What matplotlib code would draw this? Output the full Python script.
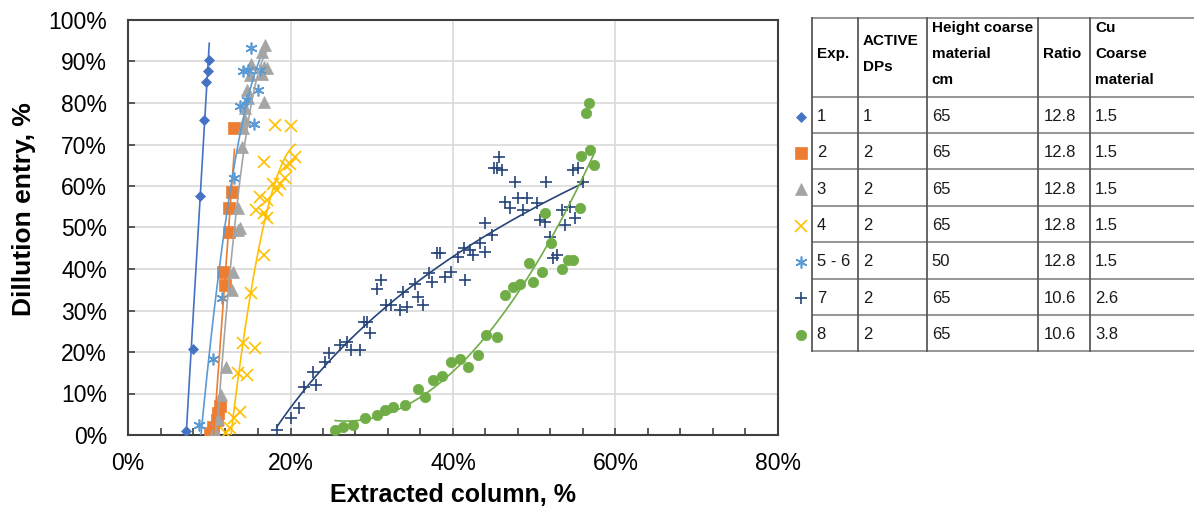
import numpy as np
import matplotlib
matplotlib.use("Agg")
import matplotlib.pyplot as plt
from matplotlib.ticker import MultipleLocator, FuncFormatter

plt.rcParams['font.family'] = ['Liberation Sans', 'DejaVu Sans']

# ---- data (x = extracted column %, y = dilution entry %) ----
exp1_x = [7.1, 8.0, 8.8, 9.4, 9.6, 9.8, 10.0]
exp1_y = [1.0, 20.7, 57.7, 75.9, 85.0, 87.7, 90.4]

exp2_x = [10.1, 10.5, 10.9, 11.1, 11.3, 11.7, 11.9, 12.4, 12.4, 12.8, 13.1]
exp2_y = [0.5, 2.0, 3.6, 5.3, 7.0, 39.3, 36.1, 48.9, 54.7, 58.6, 74.0]

exp3_x = [10.5, 10.7, 11.1, 11.5, 12.1, 12.8, 12.9, 13.6, 13.8, 13.5, 14.0, 14.2,
          14.4, 14.4, 14.6, 14.8, 16.7, 15.0, 16.5, 15.2, 16.7, 17.1, 16.5, 16.9]
exp3_y = [0.3, 0.8, 3.8, 9.6, 16.3, 34.9, 39.3, 49.4, 49.8, 54.6, 69.3, 73.9,
          75.9, 78.7, 83.1, 81.1, 80.2, 86.7, 87.1, 89.5, 88.7, 88.4, 92.4, 94.0]

exp4_x = [12.1, 12.6, 13.0, 13.8, 13.6, 14.6, 14.2, 15.6, 15.2, 16.7, 15.8, 16.7,
          17.1, 16.2, 17.1, 17.9, 18.7, 19.5, 16.7, 20.6, 19.9, 18.1, 20.1, 18.4, 19.3]
exp4_y = [0.4, 1.6, 4.0, 5.6, 14.9, 14.5, 22.1, 20.9, 34.1, 43.4, 54.2, 53.4,
          52.2, 57.4, 56.6, 60.6, 60.6, 64.7, 65.7, 67.1, 65.2, 74.7, 74.5, 59.0, 62.0]

exp56_x = [8.7, 10.4, 11.6, 13.0, 13.8, 14.6, 15.5, 16.0, 14.1, 14.8, 16.2, 15.2]
exp56_y = [2.4, 18.3, 33.1, 61.9, 79.3, 80.7, 74.9, 83.1, 87.8, 88.0, 88.0, 93.2]

exp7_x = [18.3, 20.1, 21.0, 21.6, 23.2, 22.8, 24.2, 24.7, 26.1, 26.9, 27.5, 28.6,
          29.0, 29.4, 29.8, 30.6, 31.2, 31.8, 32.4, 33.5, 34.3, 33.9, 35.3, 35.7,
          36.3, 37.0, 37.4, 38.0, 38.4, 39.0, 39.8, 40.6, 41.5, 41.3, 42.1, 42.5,
          43.3, 43.9, 43.9, 44.8, 45.0, 45.4, 46.0, 45.7, 46.4, 47.0, 47.6, 48.0,
          48.6, 49.1, 50.3, 50.7, 51.3, 51.5, 51.9, 52.3, 52.8, 53.4, 53.8, 54.4,
          55.0, 54.8, 55.4, 56.0]
exp7_y = [1.2, 4.0, 6.4, 11.6, 12.0, 15.3, 17.7, 19.7, 21.7, 22.5, 20.5, 20.5,
          27.3, 27.3, 24.5, 35.3, 37.3, 31.3, 31.3, 30.1, 30.9, 34.5, 36.5, 33.3,
          31.3, 39.0, 36.9, 43.8, 43.8, 38.1, 39.3, 43.0, 37.3, 45.0, 44.6, 43.4,
          46.2, 44.2, 51.0, 48.2, 64.3, 64.3, 63.9, 67.1, 56.2, 54.6, 61.0, 57.0,
          54.2, 57.0, 55.8, 51.8, 51.4, 61.0, 47.8, 42.6, 43.4, 54.2, 50.6, 55.0,
          52.2, 63.9, 64.3, 61.0]

exp8_x = [25.5, 26.5, 27.7, 29.2, 30.6, 31.6, 32.6, 34.1, 35.7, 36.6, 37.6, 38.6,
          39.8, 40.9, 41.9, 43.1, 44.1, 45.4, 46.4, 47.4, 48.2, 49.3, 49.9, 50.9,
          51.3, 52.1, 53.4, 54.2, 54.8, 55.6, 55.8, 56.9, 57.3, 56.7, 56.4]
exp8_y = [1.2, 2.0, 2.4, 4.2, 4.8, 6.0, 6.8, 7.2, 11.0, 9.2, 13.3, 14.1,
          17.7, 18.2, 16.5, 19.3, 24.1, 23.5, 33.7, 35.7, 36.5, 41.4, 36.9, 39.3,
          53.4, 46.3, 39.9, 42.2, 42.2, 54.6, 67.2, 68.7, 65.1, 79.9, 77.7]

# (x, y, colour, marker, size, trendline kind)
series = [
    (exp1_x, exp1_y, '#4472C4', 'D', 5.5, 'lin'),
    (exp2_x, exp2_y, '#ED7D31', 's', 8, 'lin'),
    (exp3_x, exp3_y, '#A5A5A5', '^', 8.5, 'poly2'),
    (exp4_x, exp4_y, '#FFC000', 'x', 8.5, 'poly2'),
    (exp56_x, exp56_y, '#5B9BD5', (6, 2, 0), 8.5, 'poly2'),
    (exp7_x, exp7_y, '#264478', '+', 9, 'log'),
    (exp8_x, exp8_y, '#70AD47', 'o', 7.5, 'poly2'),
]

# table contents
table_header = [["Exp."], ["ACTIVE", "DPs"], ["Height coarse", "material", "cm"],
                ["Ratio"], ["Cu", "Coarse", "material"]]
table_rows = [
    ["1", "1", "65", "12.8", "1.5"],
    ["2", "2", "65", "12.8", "1.5"],
    ["3", "2", "65", "12.8", "1.5"],
    ["4", "2", "65", "12.8", "1.5"],
    ["5 - 6", "2", "50", "12.8", "1.5"],
    ["7", "2", "65", "10.6", "2.6"],
    ["8", "2", "65", "10.6", "3.8"],
]


def trend(xs, ys, kind):
    xx = np.linspace(xs.min(), xs.max(), 150)
    if kind == 'log':
        coef = np.polyfit(np.log(xs), ys, 1)
        return xx, np.polyval(coef, np.log(xx))
    order = 1 if kind == 'lin' else 2
    coef = np.polyfit(xs, ys, order)
    return xx, np.polyval(coef, xx)


def edge_width(mk):
    return 1.2 if mk in ('x', '+') or isinstance(mk, tuple) else 0.5


fig = plt.figure(figsize=(11.94, 5.13), dpi=100)
ax = fig.add_axes([128 / 1194, 78 / 513, 650 / 1194, 415 / 513])

for xs, ys, col, mk, ms, kind in series:
    xs = np.array(xs)
    ys = np.array(ys)
    ax.plot(xs, ys, linestyle='none', marker=mk, color=col, markersize=ms,
            markeredgewidth=edge_width(mk), markeredgecolor=col, zorder=3)
    xx, yy = trend(xs, ys, kind)
    ax.plot(xx, yy, color=col, lw=1.2, zorder=4)

ax.set_xlim(0, 80)
ax.set_ylim(0, 100)
ax.xaxis.set_major_locator(MultipleLocator(20))
ax.xaxis.set_minor_locator(MultipleLocator(4))
ax.yaxis.set_major_locator(MultipleLocator(10))
pct = FuncFormatter(lambda v, p: '%d%%' % round(v))
ax.xaxis.set_major_formatter(pct)
ax.yaxis.set_major_formatter(pct)
ax.grid(True, which='major', color='#D9D9D9', lw=1.2, zorder=0)
ax.set_axisbelow(True)
ax.tick_params(axis='both', which='both', direction='in', length=5, width=1.2,
               color='#404040', labelsize=16.5)
ax.tick_params(axis='x', which='both', pad=12, top=False)
ax.tick_params(axis='y', pad=15, right=False)
for s in ax.spines.values():
    s.set_color('#404040')
    s.set_linewidth(1.5)

ax.set_xlabel('Extracted column, %', fontsize=18, fontweight='bold')
ax.set_ylabel('Dillution entry, %', fontsize=19, fontweight='bold')
ax.xaxis.set_label_coords(0.5, -0.115)
ax.yaxis.set_label_coords(-0.142, 0.545)

# ---- table drawn in pixel coordinates on an overlay axes ----
tx = fig.add_axes([0, 0, 1, 1])
tx.set_xlim(0, 1194)
tx.set_ylim(513, 0)
tx.axis('off')

col_edges = [811.7, 857.7, 926.7, 1038.3, 1090, 1194]
row_edges = [17.7, 96.7, 133.3, 169.3, 206, 242.3, 278.7, 315, 351]

for y in row_edges:
    tx.plot([col_edges[0], col_edges[-1]], [y, y], color='#8C8C8C', lw=1.3)
for x in col_edges[:-1]:
    tx.plot([x, x], [row_edges[0], row_edges[-1]], color='#595959', lw=1.3)

for j, lines in enumerate(table_header):
    n = len(lines)
    for i, t in enumerate(lines):
        tx.text(col_edges[j] + 5, 54 + (i - (n - 1) / 2) * 26, t, fontsize=11,
                fontweight='bold', va='center', ha='left')

for r, row in enumerate(table_rows):
    yc = (row_edges[r + 1] + row_edges[r + 2]) / 2 + 1.5
    for j, t in enumerate(row):
        tx.text(col_edges[j] + 5, yc, t, fontsize=12, va='center', ha='left',
                color='#1a1a1a')
    xs, ys, col, mk, ms, kind = series[r]
    tx.plot([800.7], [yc], linestyle='none', marker=mk, color=col, markersize=ms,
            markeredgewidth=edge_width(mk), markeredgecolor=col)

fig.savefig('out.png', dpi=100)
